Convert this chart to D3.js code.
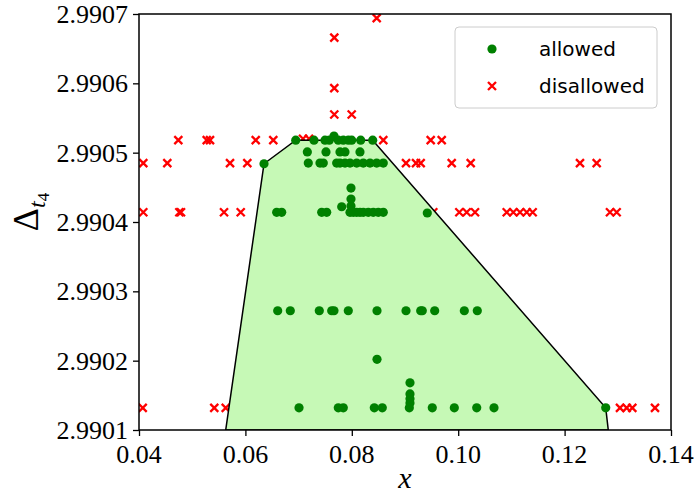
<!DOCTYPE html>
<html>
<head>
<meta charset="utf-8">
<script src="https://cdn.jsdelivr.net/npm/d3@7"></script>
<style>
  html, body { margin: 0; padding: 0; background: #fff; }
  svg { display: block; }
</style>
</head>
<body>
<svg id="chart" width="696" height="497"></svg>
<script>
// ---------------- DATA ----------------
const xTicks = [0.04, 0.06, 0.08, 0.10, 0.12, 0.14];
const yTicks = [2.9901, 2.9902, 2.9903, 2.9904, 2.9905, 2.9906, 2.9907];
const seriesNames = ["allowed", "disallowed"];

// allowed points: [x, Δt4]
const allowedX = [
  0.0635,
  0.06946, 0.07289, 0.07496, 0.07577, 0.07665, 0.07746, 0.07840, 0.07934, 0.07998, 0.08167, 0.08393,
  0.07164, 0.07515, 0.07778, 0.07872, 0.08154,
  0.07182, 0.07402, 0.07464, 0.07716, 0.07778, 0.07872, 0.07966, 0.08092, 0.08216, 0.08342, 0.08468, 0.08592,
  0.07985, 0.07985, 0.0781, 0.07985,
  0.06588, 0.06682, 0.07434, 0.07528, 0.07966, 0.08028, 0.08092, 0.08154, 0.08216, 0.08310, 0.08404, 0.08498, 0.08592, 0.09419,
  0.06607, 0.06844, 0.07389, 0.07622, 0.07665, 0.07934, 0.08474, 0.09019, 0.09295, 0.09325, 0.09558, 0.10115, 0.10359,
  0.08474,
  0.07008, 0.07746, 0.07840, 0.08423, 0.08573, 0.09081, 0.09513, 0.09927, 0.10348, 0.10673, 0.12773,
  0.09094, 0.09094, 0.09094, 0.09094
];
const allowedY = [
  2.990484,
  2.990518, 2.990518, 2.990518, 2.990518, 2.990524, 2.990518, 2.990518, 2.990518, 2.990518, 2.990518, 2.990518,
  2.990501, 2.990501, 2.990501, 2.990501, 2.990501,
  2.990485, 2.990485, 2.990485, 2.990485, 2.990485, 2.990485, 2.990485, 2.990485, 2.990485, 2.990485, 2.990485, 2.990485,
  2.990449, 2.990433, 2.990422, 2.990423,
  2.990414, 2.990414, 2.990414, 2.990414, 2.990414, 2.990414, 2.990414, 2.990414, 2.990414, 2.990414, 2.990414, 2.990414, 2.990414, 2.990413,
  2.990272, 2.990272, 2.990272, 2.990272, 2.990272, 2.990272, 2.990272, 2.990272, 2.990272, 2.990272, 2.990272, 2.990272, 2.990272,
  2.990202,
  2.990132, 2.990132, 2.990132, 2.990132, 2.990132, 2.990132, 2.990132, 2.990132, 2.990132, 2.990132, 2.990132,
  2.990168, 2.990152, 2.990145, 2.990139
];

// disallowed points: [x, Δt4]
const disallowedX = [
  0.08468, 0.07671, 0.07671, 0.07671, 0.07998,
  0.04739, 0.05273, 0.05335, 0.06194, 0.06524, 0.07083, 0.07195, 0.08592, 0.09483, 0.09690,
  0.04081, 0.04532, 0.05711, 0.06036, 0.09019, 0.09207, 0.09295, 0.09878, 0.10235, 0.12289, 0.12603,
  0.04081, 0.04758, 0.04789, 0.05598, 0.05912, 0.09532, 0.10021, 0.10160, 0.10316, 0.10912, 0.11036, 0.11162, 0.11288, 0.11400, 0.12853, 0.12979,
  0.04070, 0.05415, 0.05630, 0.13041, 0.13167, 0.13273, 0.13699
];
const disallowedY = [
  2.990694, 2.990666, 2.990593, 2.990555, 2.990555,
  2.990518, 2.990518, 2.990518, 2.990518, 2.990518, 2.990520, 2.990520, 2.990518, 2.990518, 2.990518,
  2.990485, 2.990485, 2.990485, 2.990485, 2.990485, 2.990485, 2.990485, 2.990485, 2.990485, 2.990485, 2.990485,
  2.990414, 2.990414, 2.990414, 2.990414, 2.990414, 2.990414, 2.990414, 2.990414, 2.990414, 2.990414, 2.990414, 2.990414, 2.990414, 2.990414, 2.990414, 2.990414,
  2.990132, 2.990132, 2.990132, 2.990132, 2.990132, 2.990132, 2.990132
];

// allowed-region polygon vertices
const regionX = [0.0635, 0.06946, 0.08393, 0.12773, 0.12821, 0.05630];
const regionY = [2.990484, 2.990518, 2.990518, 2.990132, 2.9901, 2.9901];

// ---------------- CHART ----------------
const margin = { left: 139, right: 671, top: 14, bottom: 430 };
const SERIF = '"Liberation Serif"';
const SANS = '"DejaVu Sans"';
const svg = d3.select("#chart");

const x = d3.scaleLinear().domain([0.04, 0.14]).range([margin.left, margin.right]);
const y = d3.scaleLinear().domain([2.9901, 2.9907]).range([margin.bottom, margin.top]);

svg.append("defs").append("clipPath").attr("id", "clip")
  .append("rect")
  .attr("x", margin.left).attr("y", margin.top)
  .attr("width", margin.right - margin.left).attr("height", margin.bottom - margin.top);

const plot = svg.append("g").attr("clip-path", "url(#clip)");

const allowed = allowedX.map((v, i) => [v, allowedY[i]]);
const disallowed = disallowedX.map((v, i) => [v, disallowedY[i]]);
const region = regionX.map((v, i) => [v, regionY[i]]);

// disallowed markers (x)
const xs = 4;
plot.append("g").selectAll("path").data(disallowed).join("path")
  .attr("d", d => {
    const cx = x(d[0]), cy = y(d[1]);
    return `M${cx - xs},${cy - xs}L${cx + xs},${cy + xs}M${cx - xs},${cy + xs}L${cx + xs},${cy - xs}`;
  })
  .attr("stroke", "#ff0000").attr("stroke-width", 2.3).attr("fill", "none");

// region polygon
plot.append("path")
  .datum(region)
  .attr("d", d3.line().x(d => x(d[0])).y(d => y(d[1])).curve(d3.curveLinearClosed))
  .attr("fill", "#c6f9b6")
  .attr("stroke", "#000").attr("stroke-width", 1.5);

// allowed markers
plot.append("g").selectAll("circle").data(allowed).join("circle")
  .attr("cx", d => x(d[0])).attr("cy", d => y(d[1]))
  .attr("r", 4.6).attr("fill", "#008000");

// axes: tick marks through d3 axes, labels as separate text
const xAxis = svg.append("g").attr("transform", `translate(0,${margin.bottom})`)
  .call(d3.axisBottom(x).tickValues(xTicks).tickSize(6).tickFormat(""));
xAxis.select(".domain").remove();
xAxis.selectAll("line").attr("stroke", "#000").attr("stroke-width", 1.3);

const yAxis = svg.append("g").attr("transform", `translate(${margin.left},0)`)
  .call(d3.axisLeft(y).tickValues(yTicks).tickSize(6).tickFormat(""));
yAxis.select(".domain").remove();
yAxis.selectAll("line").attr("stroke", "#000").attr("stroke-width", 1.3);

const fx = d3.format(".2f"), fy = d3.format(".4f");
svg.append("g").selectAll("text").data(xTicks).join("text")
  .attr("x", d => x(d)).attr("y", margin.bottom + 33)
  .attr("text-anchor", "middle")
  .style("font-family", SERIF).style("font-size", "26px").attr("fill", "#000")
  .text(d => fx(d));

svg.append("g").selectAll("text").data(yTicks).join("text")
  .attr("x", margin.left - 11).attr("y", d => y(d) + 9)
  .attr("text-anchor", "end")
  .style("font-family", SERIF).style("font-size", "26px").attr("fill", "#000")
  .text(d => fy(d));

// frame
svg.append("rect")
  .attr("x", margin.left).attr("y", margin.top)
  .attr("width", margin.right - margin.left).attr("height", margin.bottom - margin.top)
  .attr("fill", "none").attr("stroke", "#000").attr("stroke-width", 1.5);

// axis labels
svg.append("text")
  .attr("x", (margin.left + margin.right) / 2).attr("y", 488)
  .attr("text-anchor", "middle")
  .style("font-family", SERIF).style("font-style", "italic").style("font-size", "30px")
  .text("x");

const yl = svg.append("text")
  .attr("transform", `translate(38,${(margin.top + margin.bottom) / 2 - 10}) rotate(-90)`)
  .attr("text-anchor", "middle")
  .style("font-family", SERIF).style("font-size", "36px");
yl.append("tspan").text("Δ");
yl.append("tspan").style("font-style", "italic").style("font-size", "24px").attr("dy", 7).text("t");
yl.append("tspan").style("font-size", "17px").attr("dy", 4).text("4");

// legend
const lg = svg.append("g");
lg.append("rect")
  .attr("x", 455).attr("y", 27).attr("width", 202).attr("height", 81)
  .attr("rx", 4).attr("fill", "#fff").attr("fill-opacity", 0.8)
  .attr("stroke", "#cccccc").attr("stroke-width", 1);
lg.append("circle").attr("cx", 492).attr("cy", 49).attr("r", 4.6).attr("fill", "#008000");
lg.append("path")
  .attr("d", `M${492 - xs},${86 - xs}L${492 + xs},${86 + xs}M${492 - xs},${86 + xs}L${492 + xs},${86 - xs}`)
  .attr("stroke", "#ff0000").attr("stroke-width", 2.3);
lg.selectAll("text.lt").data(seriesNames).join("text")
  .attr("class", "lt")
  .attr("x", 539).attr("y", (d, i) => 56 + i * 37)
  .style("font-family", SANS).style("font-size", "20px")
  .attr("fill", "#000")
  .text(d => d);
</script>
</body>
</html>
